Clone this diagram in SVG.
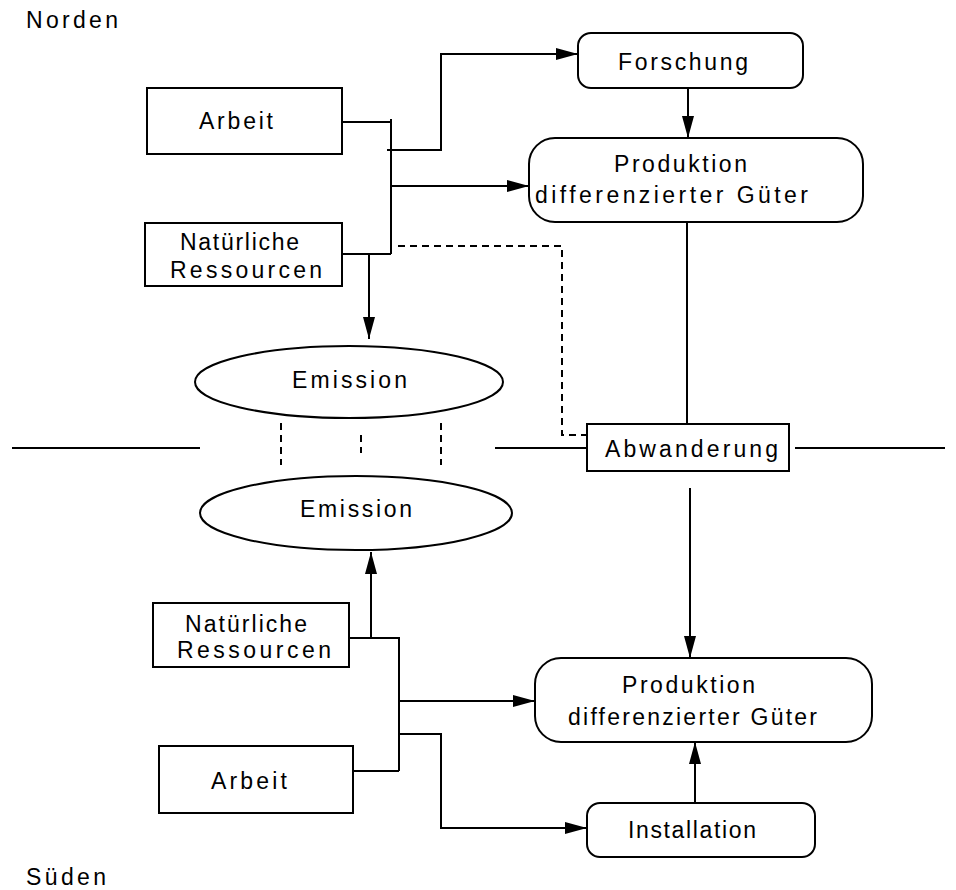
<svg xmlns="http://www.w3.org/2000/svg" width="956" height="890" viewBox="0 0 956 890">
<defs>
<style>
.box{fill:#fff;stroke:#000;stroke-width:2}
.ln{fill:none;stroke:#000;stroke-width:2}
.dash{fill:none;stroke:#000;stroke-width:2;stroke-dasharray:7 5}
.t{font-family:"Liberation Sans",Arial,sans-serif;font-size:23px;fill:#000}
</style>
<marker id="ah" markerWidth="22" markerHeight="12" refX="22" refY="6" orient="auto" markerUnits="userSpaceOnUse">
<path d="M0,0 L22,6 L0,12 z" fill="#000"/>
</marker>
</defs>
<rect width="956" height="890" fill="#fff"/>

<text class="t" x="26" y="28" textLength="92" lengthAdjust="spacing">Norden</text>
<text class="t" x="26" y="885" textLength="80" lengthAdjust="spacing">Süden</text>

<g id="connectors">
<line class="ln" x1="342" y1="122" x2="391" y2="122"/>
<line class="ln" x1="391" y1="119" x2="391" y2="254"/>
<polyline class="ln" points="387,150 441,150 441,54 578,54" marker-end="url(#ah)"/>
<line class="ln" x1="391" y1="186" x2="529" y2="186" marker-end="url(#ah)"/>
<line class="ln" x1="342" y1="254" x2="391" y2="254"/>
<line class="ln" x1="369" y1="254" x2="369" y2="339" marker-end="url(#ah)"/>
<polyline class="dash" points="398,246 562,246 562,435 587,435"/>
<line class="ln" x1="688" y1="88" x2="688" y2="138" marker-end="url(#ah)"/>
<line class="ln" x1="687" y1="222" x2="687" y2="424"/>
<line class="ln" x1="12" y1="448" x2="200" y2="448"/>
<line class="ln" x1="495" y1="448" x2="587" y2="448"/>
<line class="ln" x1="795" y1="448" x2="945" y2="448"/>
<line class="dash" x1="281" y1="423" x2="281" y2="465"/>
<line class="dash" x1="361" y1="435" x2="361" y2="453"/>
<line class="dash" x1="441" y1="423" x2="441" y2="465"/>
<line class="ln" x1="690" y1="488" x2="690" y2="658" marker-end="url(#ah)"/>
<line class="ln" x1="349" y1="638" x2="400" y2="638"/>
<line class="ln" x1="371" y1="638" x2="371" y2="552" marker-end="url(#ah)"/>
<line class="ln" x1="399" y1="637" x2="399" y2="771"/>
<line class="ln" x1="353" y1="771" x2="399" y2="771"/>
<line class="ln" x1="399" y1="701" x2="535" y2="701" marker-end="url(#ah)"/>
<polyline class="ln" points="399,734 441,734 441,828 587,828" marker-end="url(#ah)"/>
<line class="ln" x1="695" y1="803" x2="695" y2="742" marker-end="url(#ah)"/>
</g>

<g id="arbeit-nord">
<rect class="box" x="147" y="88" width="195" height="66"/>
<text class="t" x="199" y="129" textLength="74" lengthAdjust="spacing">Arbeit</text>
</g>
<g id="ressourcen-nord">
<rect class="box" x="145" y="223" width="197" height="63"/>
<text class="t" x="180" y="250" textLength="119" lengthAdjust="spacing">Natürliche</text>
<text class="t" x="170" y="278" textLength="152" lengthAdjust="spacing">Ressourcen</text>
</g>
<g id="forschung">
<rect class="box" x="578" y="33" width="225" height="55" rx="13"/>
<text class="t" x="618" y="70" textLength="130" lengthAdjust="spacing">Forschung</text>
</g>
<g id="produktion-nord">
<rect class="box" x="529" y="138" width="334" height="84" rx="26"/>
<text class="t" x="614" y="172" textLength="133" lengthAdjust="spacing">Produktion</text>
<text class="t" x="535" y="203" textLength="273" lengthAdjust="spacing">differenzierter Güter</text>
</g>
<g id="emission-nord">
<ellipse class="box" cx="349" cy="382" rx="154" ry="36"/>
<text class="t" x="292" y="388" textLength="115" lengthAdjust="spacing">Emission</text>
</g>
<g id="abwanderung">
<rect class="box" x="587" y="424" width="202" height="47"/>
<text class="t" x="605" y="457" textLength="173" lengthAdjust="spacing">Abwanderung</text>
</g>
<g id="emission-sued">
<ellipse class="box" cx="356" cy="513" rx="156" ry="37"/>
<text class="t" x="300" y="517" textLength="112" lengthAdjust="spacing">Emission</text>
</g>
<g id="ressourcen-sued">
<rect class="box" x="153" y="603" width="196" height="64"/>
<text class="t" x="185" y="632" textLength="122" lengthAdjust="spacing">Natürliche</text>
<text class="t" x="177" y="658" textLength="154" lengthAdjust="spacing">Ressourcen</text>
</g>
<g id="arbeit-sued">
<rect class="box" x="159" y="746" width="194" height="67"/>
<text class="t" x="211" y="789" textLength="76" lengthAdjust="spacing">Arbeit</text>
</g>
<g id="produktion-sued">
<rect class="box" x="535" y="658" width="337" height="84" rx="26"/>
<text class="t" x="622" y="693" textLength="133" lengthAdjust="spacing">Produktion</text>
<text class="t" x="568" y="725" textLength="249" lengthAdjust="spacing">differenzierter Güter</text>
</g>
<g id="installation">
<rect class="box" x="587" y="803" width="228" height="54" rx="13"/>
<text class="t" x="628" y="838" textLength="128" lengthAdjust="spacing">Installation</text>
</g>
</svg>
